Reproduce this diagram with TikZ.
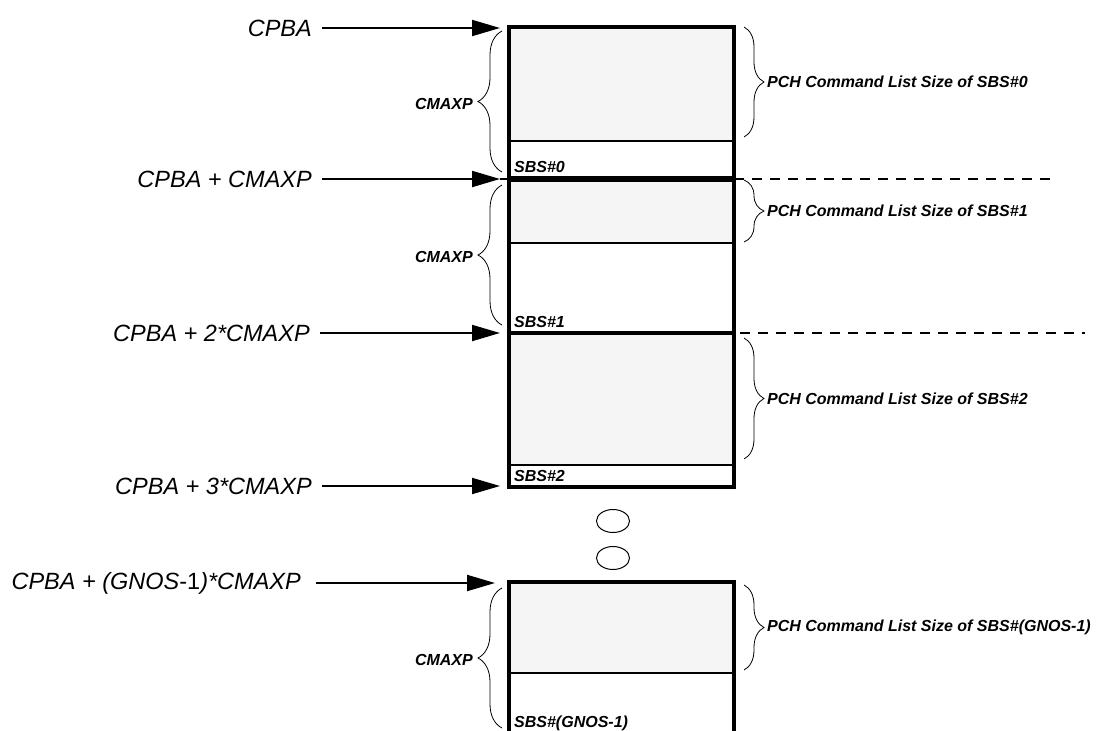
\documentclass[tikz,border=0pt]{standalone}
\usepackage{fontspec}
\setmainfont{Liberation Sans}
\usetikzlibrary{arrows.meta, decorations.pathreplacing, shapes.geometric}
\definecolor{cmdgray}{RGB}{245,245,245}

\begin{document}
\begin{tikzpicture}[x=1pt, y=-1pt,
    addr/.style={anchor=east, inner sep=0pt, font=\fontsize{23.5}{28}\selectfont\itshape},
    tag/.style={inner sep=0pt, font=\fontsize{16}{19}\selectfont\bfseries\itshape},
    ptr/.style={-{Triangle[length=28pt, width=16pt]}, line width=2pt, shorten <=10pt},
    frame/.style={line width=3.2pt},
    divider/.style={line width=1.6pt},
    sizebrace/.style={decorate, decoration={brace, amplitude=20pt}, line width=0.8pt},
    maxbrace/.style={decorate, decoration={brace, amplitude=24pt}, line width=0.8pt},
    sep/.style={dash pattern=on 10pt off 8pt, line width=1.5pt},
    dots/.style={ellipse, draw, line width=1pt, minimum width=33pt, minimum height=23pt, inner sep=0pt}]
    \useasboundingbox (0,0) rectangle (1096,731);

    % AREE GRIGIE
    \fill[cmdgray] (509,27) rectangle (734,141);
    \fill[cmdgray] (509,180) rectangle (734,243);
    \fill[cmdgray] (509,333) rectangle (734,465);
    \fill[cmdgray] (509,582) rectangle (734,673);

    % SBS#0
    \draw[divider] (509,141) -- (734,141);
    \draw[frame] (509,27) rectangle (734,178);
    \node[tag, anchor=west] (n0) at (514,167) {SBS\#0};
    % SBS#1
    \draw[divider] (509,243) -- (734,243);
    \draw[frame] (509,180) rectangle (734,333);
    \node[tag, anchor=west] (n1) at (514,322) {SBS\#1};
    % SBS#2
    \draw[divider] (509,465) -- (734,465);
    \draw[frame] (509,333) rectangle (734,487);
    \node[tag, anchor=west] (n2) at (514,476) {SBS\#2};
    % SBS#(GNOS-1)
    \draw[divider] (509,673) -- (734,673);
    \draw[frame] (509,735) -- (509,582) -- (734,582) -- (734,735);
    \node[tag, anchor=west] (nl) at (514,723) {SBS\#(GNOS-1)};

    \draw[sep] (500,179) -- (1050,179);
    \draw[sep] (740,333) -- (1085,333);

    \node[dots] (e1) at (613,521) {};
    \node[dots] (e2) at (613,558) {};

    % INDIRIZZI
    \node[addr] (a0) at (312,28) {CPBA};
    \node[addr] (a1) at (312,179) {CPBA + CMAXP};
    \node[addr] (a2) at (310,333) {CPBA + 2*CMAXP};
    \node[addr] (a3) at (312,486) {CPBA + 3*CMAXP};
    \node[addr] (al) at (301,583) {CPBA + (GNOS{\upshape -1})*CMAXP};
    \coordinate (t0) at (500,28);
    \coordinate (t1) at (500,179);
    \coordinate (t2) at (500,333);
    \coordinate (t3) at (500,486);
    \coordinate (tl) at (495,583);
    \draw[ptr] (a0) -- (t0);
    \draw[ptr] (a1) -- (t1);
    \draw[ptr] (a2) -- (t2);
    \draw[ptr] (a3) -- (t3);
    \draw[ptr, shorten <=15pt] (al) -- (tl);

    % CMAXP
    \draw[maxbrace] (502,172) -- (502,31);
    \node[tag, anchor=east] (m0) at (473,104) {CMAXP};
    \draw[maxbrace] (502,325) -- (502,185);
    \node[tag, anchor=east] (m1) at (473,257) {CMAXP};
    \draw[maxbrace] (502,728) -- (502,588);
    \node[tag, anchor=east] (ml) at (473,660) {CMAXP};

    % PCH COMMAND LIST SIZE
    \draw[sizebrace] (744,27) -- (744,137);
    \node[tag, anchor=west] (s0) at (767,82) {PCH Command List Size of SBS\#0};
    \draw[sizebrace] (744,180) -- (744,242);
    \node[tag, anchor=west] (s1) at (767,211) {PCH Command List Size of SBS\#1};
    \draw[sizebrace] (744,338) -- (744,459);
    \node[tag, anchor=west] (s2) at (767,399) {PCH Command List Size of SBS\#2};
    \draw[sizebrace] (744,585) -- (744,670);
    \node[tag, anchor=west] (sl) at (767,627) {PCH Command List Size of SBS\#(GNOS-1)};
\end{tikzpicture}
\end{document}
